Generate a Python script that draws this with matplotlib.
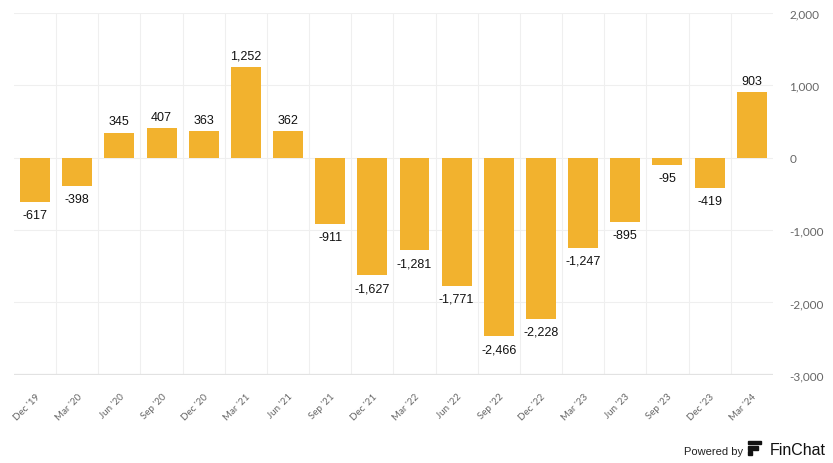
import numpy as np
import matplotlib
matplotlib.use("Agg")
import matplotlib.pyplot as plt
from matplotlib.patches import Rectangle

# quarter labels and values
quarters = ["Dec '19", "Mar '20", "Jun '20", "Sep '20", "Dec '20", "Mar '21",
            "Jun '21", "Sep '21", "Dec '21", "Mar '22", "Jun '22", "Sep '22",
            "Dec '22", "Mar '23", "Jun '23", "Sep '23", "Dec '23", "Mar '24"]
values = [-617, -398, 345, 407, 363, 1252, 362, -911, -1627, -1281,
          -1771, -2466, -2228, -1247, -895, -95, -419, 903]
y_ticks = [-3000, -2000, -1000, 0, 1000, 2000]

bar_color = "#F2B22E"
grid_color = "#EFEFEF"
tick_color = "#666666"

fig = plt.figure(figsize=(8.33, 4.64), dpi=100)
ax = fig.add_axes([0.0168, 0.19, 0.911, 0.78])

x = np.arange(len(values))
ax.bar(x, values, width=0.71, color=bar_color, zorder=2)

for xi, v in zip(x, values):
    lab = f"{v:,}"
    if v >= 0:
        ax.annotate(lab, (xi, v), xytext=(0, 4), textcoords="offset points",
                    ha="center", va="bottom", fontsize=9,
                    family="Liberation Sans", color="#111111")
    else:
        ax.annotate(lab, (xi, v), xytext=(0, -5), textcoords="offset points",
                    ha="center", va="top", fontsize=9,
                    family="Liberation Sans", color="#111111")

ax.set_xlim(-0.5, len(values) - 0.5)
ax.set_ylim(-3000, 2000)

# grid: horizontal at ticks, vertical between categories
for yv in y_ticks:
    ax.axhline(yv, color=grid_color, lw=0.8, zorder=0)
for b in np.arange(0.5, len(values) - 0.5, 1):
    ax.axvline(b, color=grid_color, lw=0.8, zorder=0)
ax.axhline(-3000, color="#E2E2E2", lw=1.6, zorder=1)

ax.yaxis.tick_right()
ax.set_yticks(y_ticks)
ax.set_yticklabels([f"{t:,}" for t in y_ticks], family="Lato",
                   fontsize=8.5, color=tick_color)
ax.tick_params(axis="y", length=0, pad=12)

ax.set_xticks(x)
ax.set_xticklabels(quarters, rotation=45, ha="right", rotation_mode="anchor",
                   family="Lato", fontsize=7, color=tick_color)
ax.tick_params(axis="x", length=0, pad=12)

for s in ax.spines.values():
    s.set_visible(False)

# footer
fig.text(0.892, 0.016, "Powered by", ha="right", va="bottom",
         fontsize=8, family="Liberation Sans", color="#222222")
lx, ly = 0.898, 0.018
fig.patches.append(Rectangle((lx, ly + 0.022), 0.016, 0.008, transform=fig.transFigure,
                             color="#111111"))
fig.patches.append(Rectangle((lx, ly + 0.011), 0.012, 0.008, transform=fig.transFigure,
                             color="#111111"))
fig.patches.append(Rectangle((lx, ly), 0.005, 0.008, transform=fig.transFigure,
                             color="#111111"))
fig.text(0.924, 0.014, "FinChat", ha="left", va="bottom",
         fontsize=11.5, family="Liberation Sans", color="#111111")

fig.savefig("out.png", dpi=100, facecolor="white")
